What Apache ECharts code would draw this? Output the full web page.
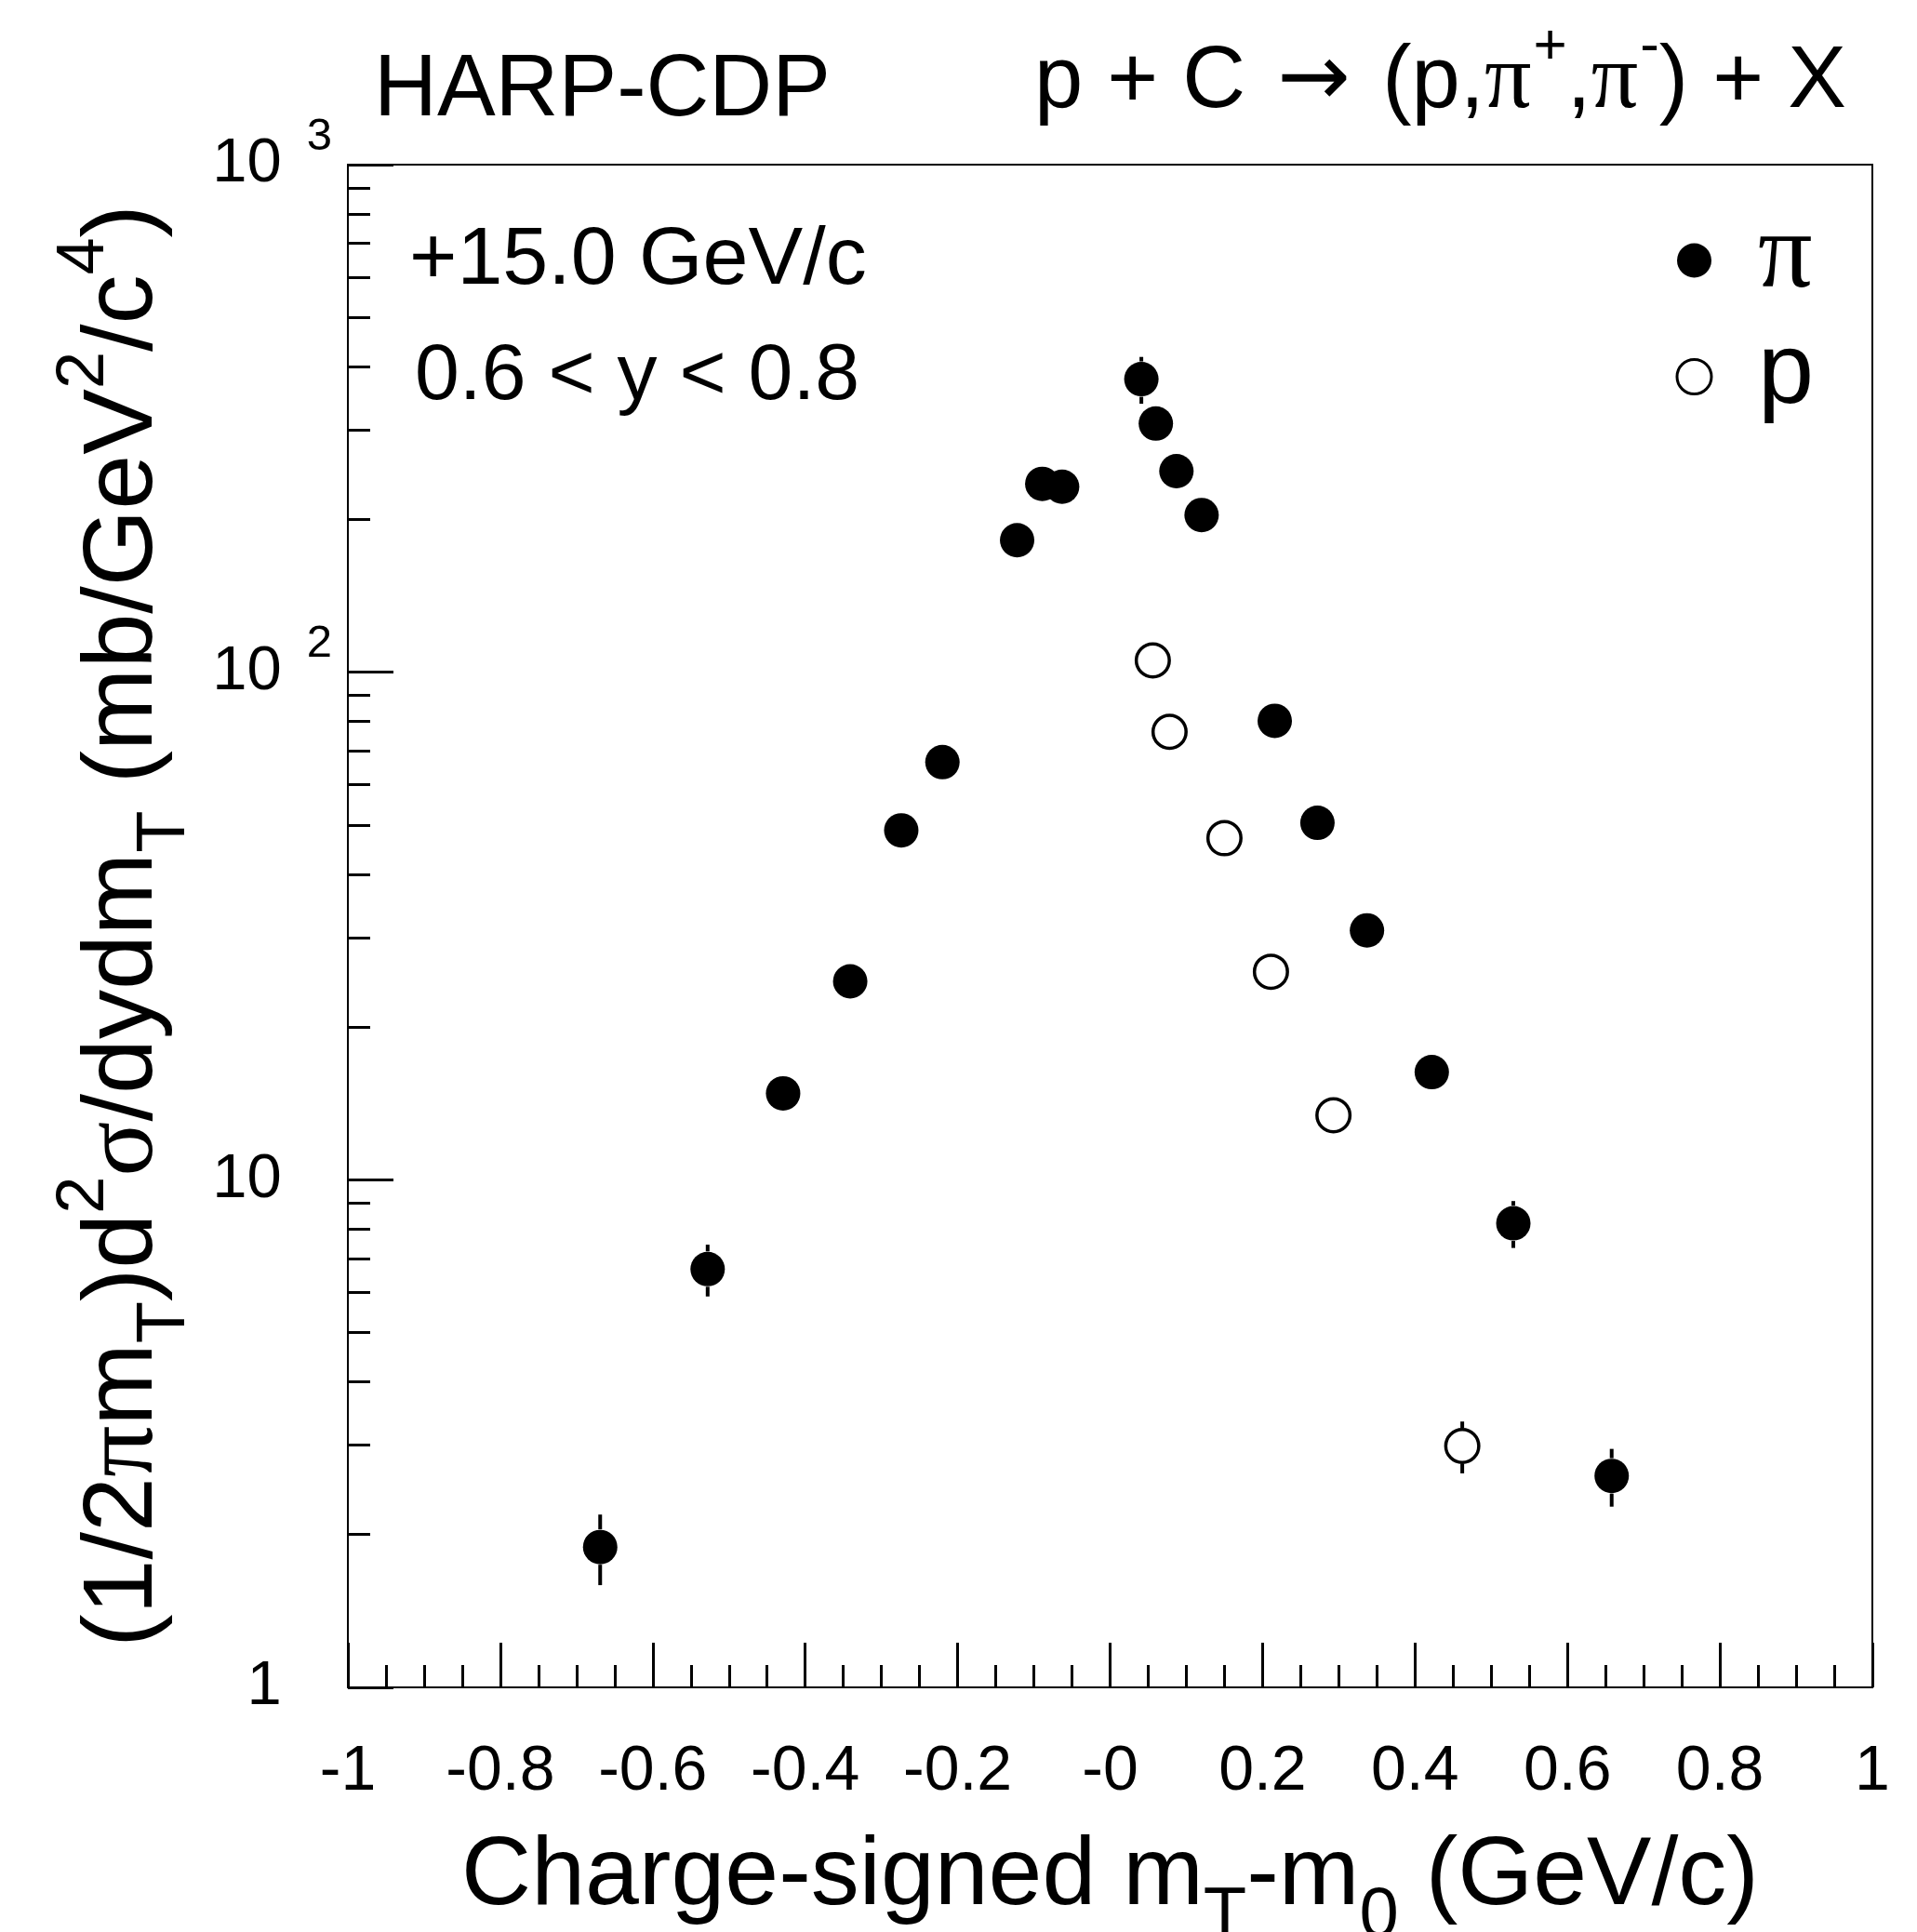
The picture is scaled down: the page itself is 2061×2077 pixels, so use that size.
<!DOCTYPE html>
<html>
<head>
<meta charset="utf-8">
<script src="https://cdn.jsdelivr.net/npm/echarts@6/dist/echarts.min.js"></script>
<style>html,body{margin:0;padding:0;background:#fff}#c{width:2061px;height:2077px}</style>
</head>
<body>
<div id="c"></div>
<script>
// ---- data ----
const piX   = [-0.669, -0.528, -0.429, -0.341, -0.274, -0.220, -0.122, -0.089, -0.063, 0.041, 0.060, 0.087, 0.120, 0.216, 0.272, 0.337, 0.422, 0.529, 0.658];
const piY   = [1.89, 6.67, 14.8, 24.6, 48.8, 66.5, 182, 235, 232, 378, 309, 249, 204, 80.2, 50.5, 31.0, 16.3, 8.21, 2.61];
const piErr = [0.30, 0.78, 0.5, 0.7, 1.2, 1.6, 4, 5, 5, 40, 7, 6, 5, 2.0, 1.4, 1.0, 0.6, 0.87, 0.34];
const pX    = [0.056, 0.078, 0.150, 0.211, 0.293, 0.462];
const pY    = [105.5, 76.3, 47.1, 25.7, 13.4, 2.99];
const pErr  = [3, 2.5, 1.5, 0.9, 0.6, 0.35];

const xTickLabels = ['-1', '-0.8', '-0.6', '-0.4', '-0.2', '-0', '0.2', '0.4', '0.6', '0.8', '1'];
const yTickValues = [1, 10, 100, 1000];
const yTickBase   = ['1', '10', '10', '10'];
const yTickExp    = ['', '', '2', '3'];
const yMinorValues = [2, 3, 4, 5, 6, 7, 8, 9, 20, 30, 40, 50, 60, 70, 80, 90, 200, 300, 400, 500, 600, 700, 800, 900];

const SANS = 'Liberation Sans';
const SERIF = 'Liberation Serif';

const chart = echarts.init(document.getElementById('c'), null, {renderer: 'canvas', devicePixelRatio: 1});

const MR = 19; // marker radius in px (for error bar gaps)
function errRender(params, api) {
  const x = api.value(0), y = api.value(1), e = api.value(2);
  const c = api.coord([x, y]);
  const t = api.coord([x, y + e]);
  const b = api.coord([x, Math.max(y - e, 1e-6)]);
  const children = [];
  if (c[1] - MR - t[1] > 0.5) {
    children.push({type: 'line', shape: {x1: c[0], y1: t[1], x2: c[0], y2: c[1] - MR}, style: {stroke: '#000', lineWidth: 4}});
  }
  if (b[1] - (c[1] + MR) > 0.5) {
    children.push({type: 'line', shape: {x1: c[0], y1: c[1] + MR, x2: c[0], y2: b[1]}, style: {stroke: '#000', lineWidth: 4}});
  }
  return {type: 'group', children: children};
}

const option = {
  animation: false,
  backgroundColor: '#fff',
  title: [
    {text: 'HARP-CDP', left: 402, top: 51, padding: 0,
     textStyle: {fontFamily: SANS, fontSize: 94, lineHeight: 94, fontWeight: 'normal', color: '#000'}},
    {text: '{m|p + C }{a|\u2192}{m| (p,}{g|\u03c0}{u|+}{m|,}{g|\u03c0}{u|-}{m|) + X}', right: 76, top: 31, padding: 0,
     textStyle: {fontWeight: 'normal', color: '#000', rich: {
       m: {fontFamily: SANS, fontSize: 94, lineHeight: 94, padding: [22, 0, 0, 0], color: '#000'},
       a: {fontFamily: 'DejaVu Sans', fontSize: 94, lineHeight: 94, padding: [22, 8, 0, 8], color: '#000'},
       g: {fontFamily: SERIF, fontSize: 100, lineHeight: 94, padding: [22, 0, 0, 0], color: '#000'},
       u: {fontFamily: SANS, fontSize: 62, lineHeight: 62, padding: [0, 0, 54, 2], color: '#000'}
     }}},
    {text: '+15.0 GeV/c', left: 440, top: 237, padding: 0,
     textStyle: {fontFamily: SANS, fontSize: 88, lineHeight: 88, fontWeight: 'normal', color: '#000'}},
    {text: '0.6 < y < 0.8', left: 446, top: 362, padding: 0,
     textStyle: {fontFamily: SANS, fontSize: 86, lineHeight: 86, fontWeight: 'normal', color: '#000'}}
  ],
  legend: {
    orient: 'vertical', left: 1801.5, top: 220, padding: 0,
    itemWidth: 37, itemHeight: 37, itemGap: 13,
    selectedMode: false,
    data: [
      {name: '\u03c0', icon: 'circle', itemStyle: {color: '#000', borderWidth: 0}},
      {name: 'p', icon: 'circle', itemStyle: {color: '#fff', borderColor: '#000', borderWidth: 3}}
    ],
    formatter: function (name) { return name === 'p' ? '{t|p}' : '{g|\u03c0}'; },
    textStyle: {padding: [0, 0, 4, 45], color: '#000', rich: {
      t: {fontFamily: SANS, fontSize: 108, lineHeight: 37, color: '#000'},
      g: {fontFamily: SERIF, fontSize: 116, lineHeight: 37, color: '#000'}
    }}
  },
  grid: {left: 374, right: 48, top: 177, bottom: 263, containLabel: false, outerBoundsMode: 'none',
         show: true, borderColor: '#000', borderWidth: 2, backgroundColor: 'transparent'},
  xAxis: {
    type: 'value', min: -1, max: 1, interval: 0.2,
    axisLine: {show: true, onZero: false, lineStyle: {color: '#000', width: 2}},
    axisTick: {show: true, inside: true, length: 48, lineStyle: {color: '#000', width: 3}},
    minorTick: {show: true, splitNumber: 4, length: 24, lineStyle: {color: '#000', width: 3}},
    splitLine: {show: false}, minorSplitLine: {show: false},
    axisLabel: {show: true, margin: 57, fontFamily: SANS, fontSize: 68, lineHeight: 68, color: '#000',
      showMinLabel: true, showMaxLabel: true, hideOverlap: false,
      formatter: function (v, i) { return xTickLabels[i]; }},
    name: '{n|Charge-signed m}{s|T}{n|-m}{s|0}{n| (GeV/c)}',
    nameLocation: 'middle', nameGap: 167, nameMoveOverlap: false,
    nameTextStyle: {color: '#000', rich: {
      n: {fontFamily: SANS, fontSize: 104, lineHeight: 104, padding: [0, 0, 29, 0], color: '#000'},
      s: {fontFamily: SANS, fontSize: 76, lineHeight: 76, padding: [57, 0, 0, 0], color: '#000'}
    }}
  },
  yAxis: [
    {
      type: 'log', logBase: 10, min: 1, max: 1000, position: 'left',
      axisLine: {show: true, onZero: false, lineStyle: {color: '#000', width: 2}},
      axisTick: {show: true, inside: true, length: 49, customValues: yTickValues, lineStyle: {color: '#000', width: 3}},
      splitLine: {show: false},
      axisLabel: {show: true, margin: 17, customValues: yTickValues, showMinLabel: true, showMaxLabel: true, hideOverlap: false,
        formatter: function (v) {
          let i = yTickValues.indexOf(Math.round(v));
          if (i < 0) i = 0;
          return '{m|' + yTickBase[i] + '}' + (yTickExp[i] ? '{e|' + yTickExp[i] + '}' : '{h|3}');
        },
        rich: {
          m: {fontFamily: SANS, fontSize: 67, lineHeight: 67, padding: [21, 0, 21, 0], color: '#000'},
          e: {fontFamily: SANS, fontSize: 49, lineHeight: 49, padding: [0, 0, 60, 27], color: '#000'},
          h: {fontFamily: SANS, fontSize: 49, lineHeight: 49, padding: [0, 0, 60, 27], color: 'rgba(0,0,0,0)'}
        }},
      name: '{n|(1/2}{g|\u03c0}{n|m}{s|T}{n|)d}{u|2}{g|\u03c3}{n|/dydm}{s|T}{n| (mb/GeV}{u|2}{n|/c}{u|4}{n|)}',
      nameLocation: 'middle', nameRotate: 90, nameGap: 186, nameMoveOverlap: false,
      nameTextStyle: {color: '#000', rich: {
        n: {fontFamily: SANS, fontSize: 106, lineHeight: 106, padding: [26, 0, 27.5, 0], color: '#000'},
        g: {fontFamily: SERIF, fontSize: 110, lineHeight: 106, padding: [26, 0, 27.5, 0], color: '#000'},
        s: {fontFamily: SANS, fontSize: 74, lineHeight: 74, padding: [85.5, 0, 0, 0], color: '#000'},
        u: {fontFamily: SANS, fontSize: 72, lineHeight: 72, padding: [0, 0, 87.5, 0], color: '#000'}
      }}
    },
    {
      type: 'log', logBase: 10, min: 1, max: 1000, position: 'left',
      axisLine: {show: false, onZero: false},
      axisTick: {show: true, inside: true, length: 24, customValues: yMinorValues, lineStyle: {color: '#000', width: 3}},
      axisLabel: {show: false},
      splitLine: {show: false}
    }
  ],
  series: [
    {type: 'custom', name: 'piErr', coordinateSystem: 'cartesian2d', silent: true, z: 1,
     data: piX.map(function (x, i) { return [x, piY[i], piErr[i]]; }), renderItem: errRender},
    {type: 'custom', name: 'pErr', coordinateSystem: 'cartesian2d', silent: true, z: 1,
     data: pX.map(function (x, i) { return [x, pY[i], pErr[i]]; }), renderItem: errRender},
    {type: 'scatter', name: '\u03c0', symbol: 'circle', symbolSize: 37, z: 3,
     itemStyle: {color: '#000', opacity: 1},
     data: piX.map(function (x, i) { return [x, piY[i]]; })},
    {type: 'scatter', name: 'p', symbol: 'circle', symbolSize: 35.5, z: 3,
     itemStyle: {color: '#fff', borderColor: '#000', borderWidth: 3.5, opacity: 1},
     data: pX.map(function (x, i) { return [x, pY[i]]; })}
  ]
};
chart.setOption(option);
</script>
</body>
</html>
